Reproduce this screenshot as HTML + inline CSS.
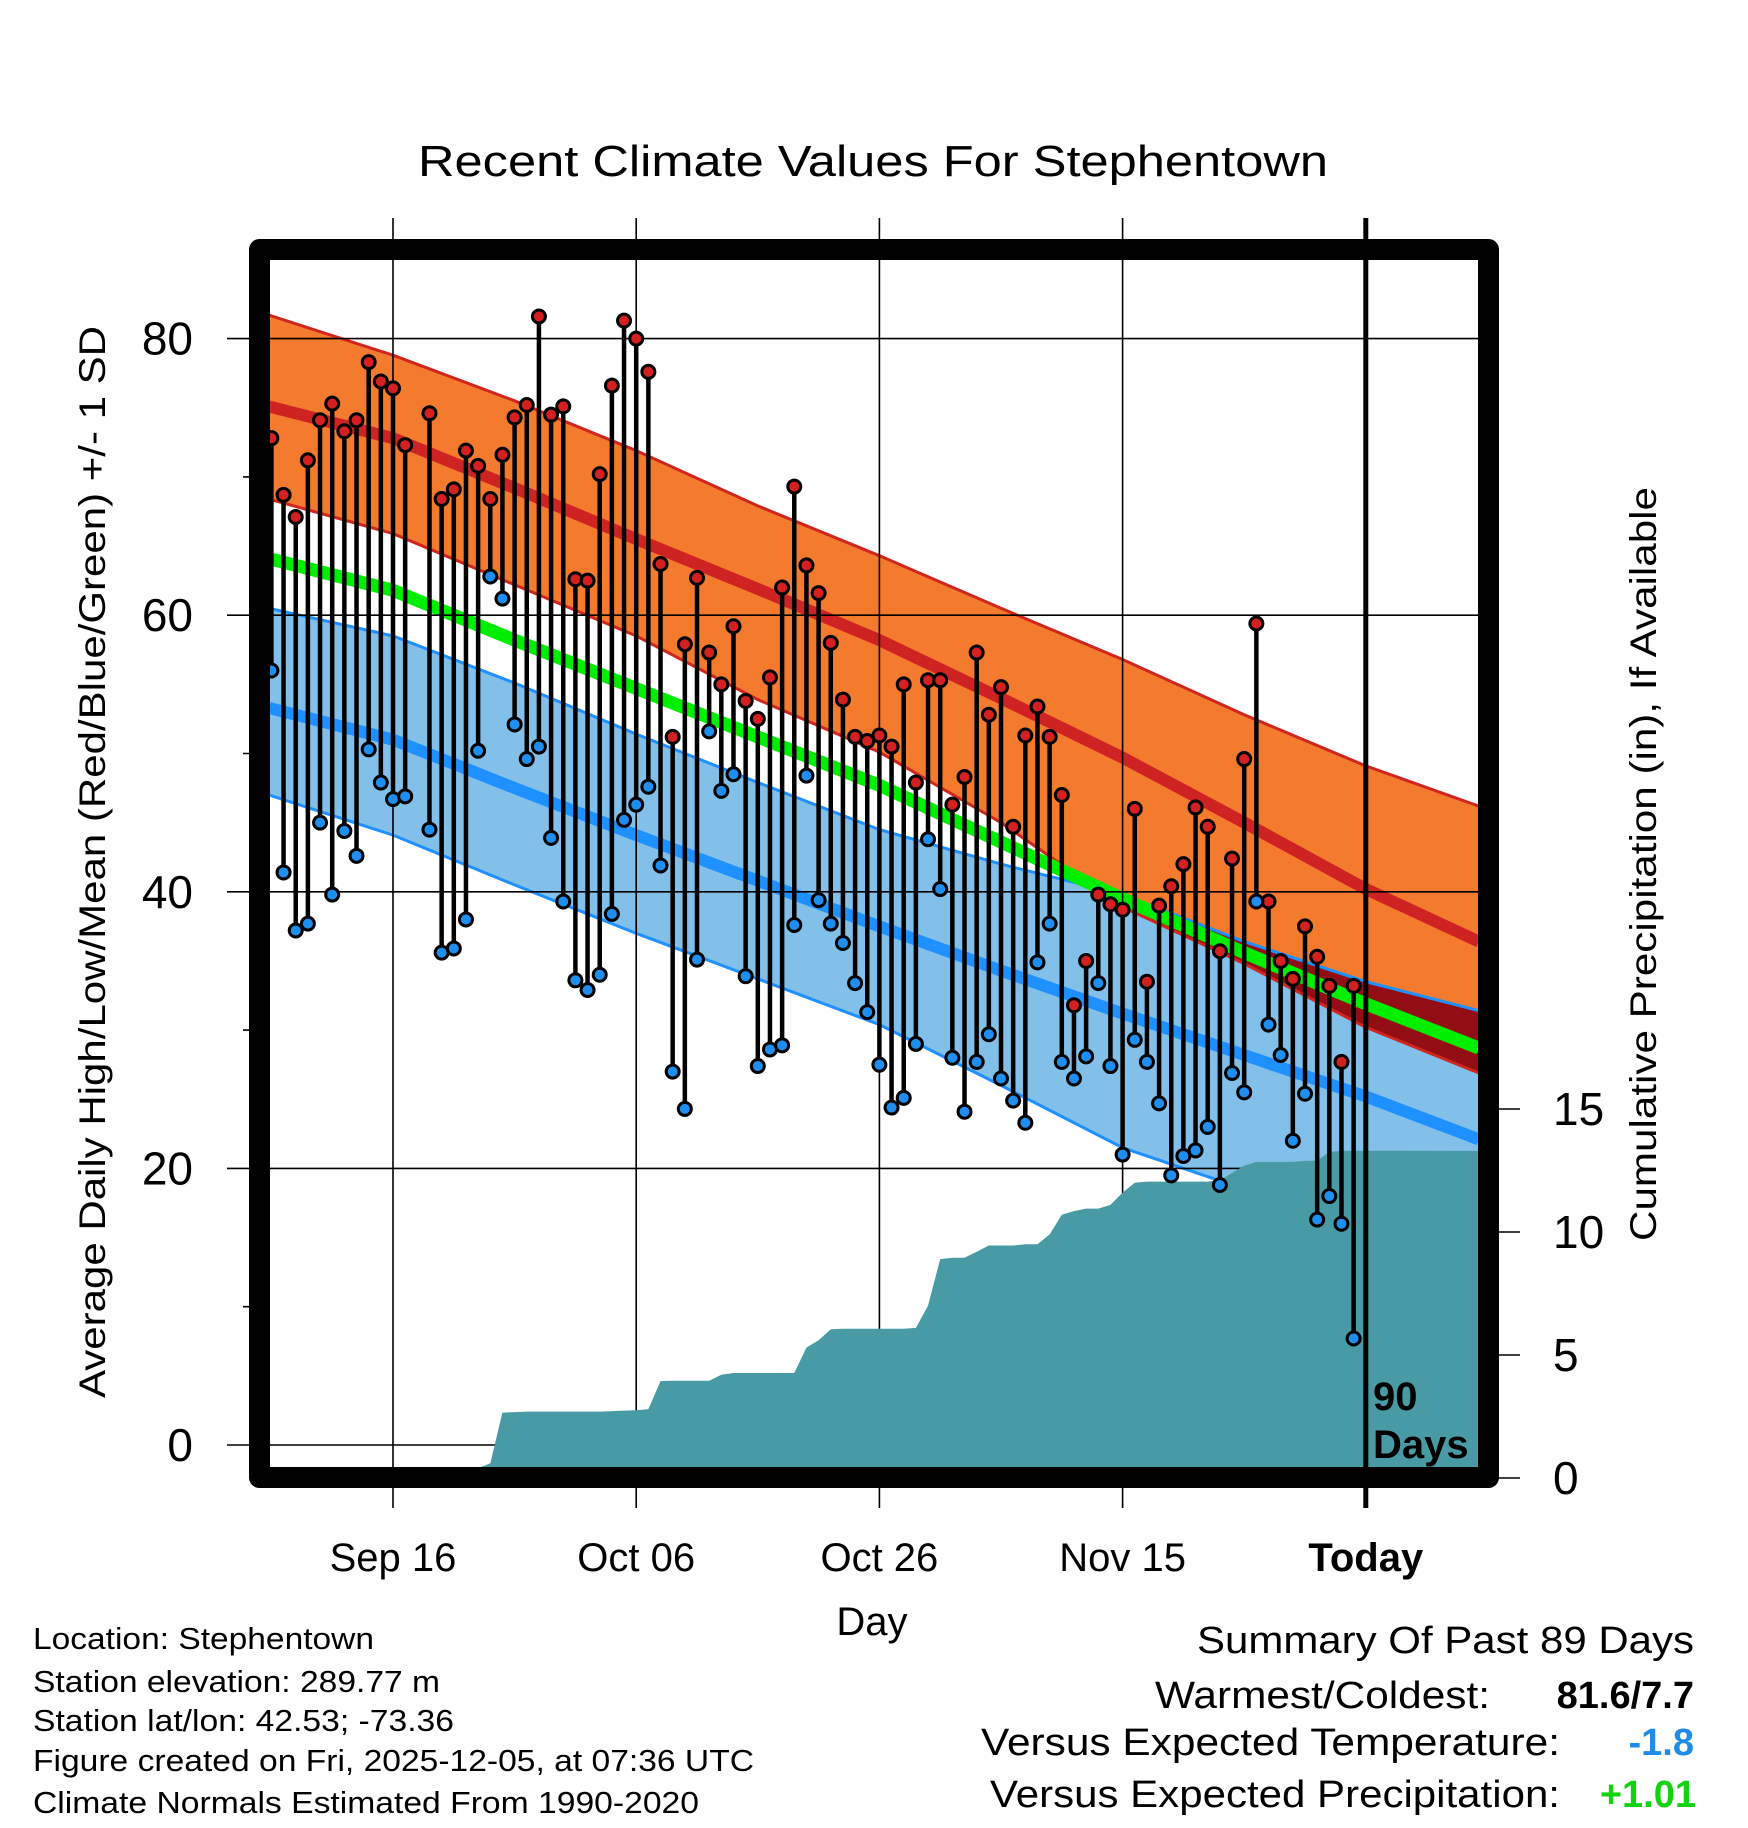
<!DOCTYPE html>
<html><head><meta charset="utf-8"><style>
html,body{margin:0;padding:0;background:#fff;}
svg{display:block;font-family:"Liberation Sans",sans-serif;}
</style></head><body>
<svg id="chart" width="1748" height="1828" viewBox="0 0 1748 1828" xmlns="http://www.w3.org/2000/svg">
<defs><clipPath id="plotclip"><rect x="270" y="260" width="1208" height="1208"/></clipPath></defs>
<text x="873" y="176" font-size="44" text-anchor="middle" textLength="910" lengthAdjust="spacingAndGlyphs">Recent Climate Values For Stephentown</text>
<g id="axes"></g>
<g id="plot" clip-path="url(#plotclip)"></g>
<g id="over"></g>
<rect x="259.5" y="249.5" width="1229" height="1228" fill="none" stroke="#000" stroke-width="21" stroke-linejoin="round"/>
<text transform="translate(105,862) rotate(-90)" font-size="37" text-anchor="middle" textLength="1072" lengthAdjust="spacingAndGlyphs">Average Daily High/Low/Mean (Red/Blue/Green) +/- 1 SD</text>
<text transform="translate(1656,864) rotate(-90)" font-size="37" text-anchor="middle" textLength="754" lengthAdjust="spacingAndGlyphs">Cumulative Precipitation (in), If Available</text>
<text x="872" y="1635" font-size="40" text-anchor="middle">Day</text>
<text font-size="40" font-weight="bold"><tspan x="1373" y="1410">90</tspan><tspan x="1373" y="1458">Days</tspan></text>
<g font-size="31">
<text x="33" y="1649" textLength="341" lengthAdjust="spacingAndGlyphs">Location: Stephentown</text>
<text x="33" y="1692" textLength="407" lengthAdjust="spacingAndGlyphs">Station elevation: 289.77 m</text>
<text x="33" y="1731" textLength="421" lengthAdjust="spacingAndGlyphs">Station lat/lon: 42.53; -73.36</text>
<text x="33" y="1771" textLength="721" lengthAdjust="spacingAndGlyphs">Figure created on Fri, 2025-12-05, at 07:36 UTC</text>
<text x="33" y="1813" textLength="666" lengthAdjust="spacingAndGlyphs">Climate Normals Estimated From 1990-2020</text>
</g>
<g font-size="38" text-anchor="end">
<text x="1694" y="1653" textLength="497" lengthAdjust="spacingAndGlyphs">Summary Of Past 89 Days</text>
<text x="1490" y="1708" textLength="335" lengthAdjust="spacingAndGlyphs">Warmest/Coldest:</text>
<text x="1694" y="1708" font-weight="bold">81.6/7.7</text>
<text x="1560" y="1755" textLength="579" lengthAdjust="spacingAndGlyphs">Versus Expected Temperature:</text>
<text x="1694" y="1755" font-weight="bold" fill="#1e8ce8">-1.8</text>
<text x="1560" y="1807" textLength="570" lengthAdjust="spacingAndGlyphs">Versus Expected Precipitation:</text>
<text x="1696" y="1807" font-weight="bold" fill="#12d212">+1.01</text>
</g>
</svg>
<script>
// day index 0 = Sep 06, index 90 = Today (Dec 05)
const highs = [72.8,68.7,67.1,71.2,74.1,75.3,73.3,74.1,78.3,76.9,76.4,72.3,null,74.6,68.4,69.1,71.9,70.8,68.4,71.6,74.3,75.2,81.6,74.5,75.1,62.6,62.5,70.2,76.6,81.3,80.0,77.6,63.7,51.2,57.9,62.7,57.3,55.0,59.2,53.8,52.5,55.5,62.0,69.3,63.6,61.6,58.0,53.9,51.2,50.9,51.3,50.5,55.0,47.9,55.3,55.3,46.3,48.3,57.3,52.8,54.8,44.7,51.3,53.4,51.2,47.0,31.8,35.0,39.8,39.1,38.7,46.0,33.5,39.0,40.4,42.0,46.1,44.7,35.7,42.4,49.6,59.4,39.3,35.0,33.7,37.5,35.3,33.2,27.7,33.2];
const lows = [56.0,41.4,37.2,37.7,45.0,39.8,44.4,42.6,50.3,47.9,46.7,46.9,null,44.5,35.6,35.9,38.0,50.2,62.8,61.2,52.1,49.6,50.5,43.9,39.3,33.6,32.9,34.0,38.4,45.2,46.3,47.6,41.9,27.0,24.3,35.1,51.6,47.3,48.5,33.9,27.4,28.6,28.9,37.6,48.4,39.4,37.7,36.3,33.4,31.3,27.5,24.4,25.1,29.0,43.8,40.2,28.0,24.1,27.7,29.7,26.5,24.9,23.3,34.9,37.7,27.7,26.5,28.1,33.4,27.4,21.0,29.3,27.7,24.7,19.5,20.9,21.3,23.0,18.8,26.9,25.5,39.3,30.4,28.2,22.0,25.4,16.3,18.0,16.0,7.7];
const precip = [0,0,0,0,0,0,0,0,0,0,0,0,0,0,0,0,0.1,0.4,0.6,2.66,2.68,2.7,2.7,2.7,2.7,2.7,2.7,2.7,2.72,2.74,2.75,2.8,3.94,3.95,3.95,3.95,3.95,4.2,4.27,4.27,4.27,4.27,4.27,4.27,5.3,5.6,6.05,6.07,6.07,6.07,6.07,6.07,6.07,6.1,7.0,8.9,8.95,8.95,9.2,9.45,9.45,9.45,9.5,9.5,9.9,10.7,10.85,10.95,10.95,11.1,11.6,12.0,12.05,12.05,12.05,12.05,12.05,12.05,12.1,12.4,12.7,12.85,12.85,12.85,12.85,12.9,12.9,13.25,13.3,13.3];
const normDays = [-0.2,10,20,30,40,50,60,70,80,90,99.3];
const hiSDup = [81.7,78.8,75.5,71.9,67.9,64.3,60.5,56.8,52.8,49.1,46.2];
const hiMean = [75.1,72.8,69.2,65.5,61.9,58.2,54.0,49.7,45.0,40.2,36.4];
const hiSDlo = [68.4,65.9,62.2,58.5,53.9,50.1,45.0,38.9,34.8,30.2,26.9];
const avgMean = [64.1,61.8,58.2,54.7,51.2,47.7,43.6,39.5,35.6,31.9,28.7];
const loSDup = [60.5,58.5,55.1,51.4,47.9,44.5,42.0,39.8,36.4,33.5,31.4];
const loMean = [53.3,51.0,47.5,44.1,40.8,37.5,34.3,31.2,28.2,25.2,22.1];
const loSDlo = [47.0,44.1,40.5,37.0,33.7,30.4,26.0,21.5,18.5,15.5,12.5];
const tempTicks = [0,20,40,60,80];
const minorTicks = [10,30,50,70];
const precipTicks = [0,5,10,15];
const dateTicks = [10,30,50,70];
const dateLabels = ["Sep 16","Oct 06","Oct 26","Nov 15"];
const todayIdx = 90;

const NS = "http://www.w3.org/2000/svg";
const X = i => 271.4 + 12.16 * i;
const Y = t => 1445 - 13.83 * t;
const YP = p => 1478 - 24.6 * p;
function mk(parent, tag, attrs) {
  const e = document.createElementNS(NS, tag);
  for (const k in attrs) e.setAttribute(k, attrs[k]);
  parent.appendChild(e);
  return e;
}
const axes = document.getElementById('axes');
const plot = document.getElementById('plot');
const over = document.getElementById('over');
function pts(days, vals) { return days.map((d, k) => X(d).toFixed(1) + ',' + Y(vals[k]).toFixed(1)); }
function band(upper, lower) {
  return pts(normDays, upper).concat(pts(normDays, lower).reverse()).join(' ');
}
let e = mk(plot, 'polygon', {points: band(hiSDup, hiSDlo), fill: '#f47a2e'});


e = mk(plot, 'polygon', {points: band(loSDup, loSDlo), fill: '#82c0ea'});


const cp = mk(plot, 'clipPath', {id: 'bluebandclip'});
mk(cp, 'polygon', {points: band(loSDup, loSDlo)});
e = mk(plot, 'polygon', {points: band(hiSDup, hiSDlo), fill: '#920e14', 'clip-path': 'url(#bluebandclip)'});


function line(vals, color, w, name) {
  const l = mk(plot, 'polyline', {points: pts(normDays, vals).join(' '), fill: 'none', stroke: color, 'stroke-width': w});
  
  
}
line(hiSDup, '#d0261e', 3, 'high-plus-sd-line');
line(hiSDlo, '#d0261e', 3, 'high-minus-sd-line');
line(loSDup, '#1e90ff', 3, 'low-plus-sd-line');
line(loSDlo, '#1e90ff', 3, 'low-minus-sd-line');
line(hiMean, '#cf2222', 12, 'normal-high-line');
line(loMean, '#1e90ff', 12, 'normal-low-line');
line(avgMean, '#00ee00', 13, 'normal-mean-line');
// gridlines inside plot (above bands, below precip)
tempTicks.forEach(t => {
  const g = mk(plot, 'line', {x1: 227, x2: 1478, y1: Y(t), y2: Y(t), stroke: '#000', 'stroke-width': 1.6});
  
  
  const tk = mk(axes, 'line', {x1: 227, x2: 260, y1: Y(t), y2: Y(t), stroke: '#000', 'stroke-width': 1.6});
  
  
  const tx = mk(axes, 'text', {x: 193, y: Y(t) + 16, 'font-size': 46, 'text-anchor': 'end'});
  tx.textContent = t;
  
  
});
minorTicks.forEach(t => {
  const g = mk(axes, 'line', {x1: 243, x2: 260, y1: Y(t), y2: Y(t), stroke: '#000', 'stroke-width': 1.6});
  
  
});
precipTicks.forEach(p => {
  const g = mk(axes, 'line', {x1: 1490, x2: 1520, y1: YP(p), y2: YP(p), stroke: '#000', 'stroke-width': 1.6});
  
  
  const tx = mk(axes, 'text', {x: 1553, y: YP(p) + 16, 'font-size': 46});
  tx.textContent = p;
  
  
});
dateTicks.forEach((d, k) => {
  const g = mk(plot, 'line', {x1: X(d), x2: X(d), y1: 218, y2: 1508, stroke: '#000', 'stroke-width': 1.6});
  
  
  const t1 = mk(axes, 'line', {x1: X(d), x2: X(d), y1: 218, y2: 250, stroke: '#000', 'stroke-width': 1.6});
  
  
  const t2 = mk(axes, 'line', {x1: X(d), x2: X(d), y1: 1480, y2: 1508, stroke: '#000', 'stroke-width': 1.6});
  
  
  const tx = mk(axes, 'text', {x: X(d), y: 1571, 'font-size': 40, 'text-anchor': 'middle'});
  tx.textContent = dateLabels[k];
  
  
});
let pp = [X(-1) + ',' + YP(0)];
precip.forEach((p, i) => pp.push(X(i).toFixed(1) + ',' + YP(p).toFixed(1)));
pp.push(X(100) + ',' + YP(precip[precip.length - 1]));
pp.push(X(100) + ',' + YP(0));
e = mk(plot, 'polygon', {points: pp.join(' '), fill: '#489ba4'});


highs.forEach((h, i) => {
  const l = lows[i];
  if (h === null || l === null) return;
  const s = mk(plot, 'line', {x1: X(i), x2: X(i), y1: Y(h), y2: Y(l), stroke: '#000', 'stroke-width': 4.5});
  
  
});
highs.forEach((h, i) => {
  if (h === null) return;
  const c = mk(plot, 'circle', {cx: X(i), cy: Y(h), r: 6.5, fill: '#d42020', stroke: '#000', 'stroke-width': 3});
  
  
});
lows.forEach((l, i) => {
  if (l === null) return;
  const c = mk(plot, 'circle', {cx: X(i), cy: Y(l), r: 6.5, fill: '#1e8ff0', stroke: '#000', 'stroke-width': 3});
  
  
});
e = mk(over, 'line', {x1: X(todayIdx), x2: X(todayIdx), y1: 218, y2: 1508, stroke: '#000', 'stroke-width': 5});


e = mk(over, 'text', {x: X(todayIdx), y: 1571, 'font-size': 40, 'text-anchor': 'middle', 'font-weight': 'bold'});
e.textContent = 'Today';


</script>
</body></html>
